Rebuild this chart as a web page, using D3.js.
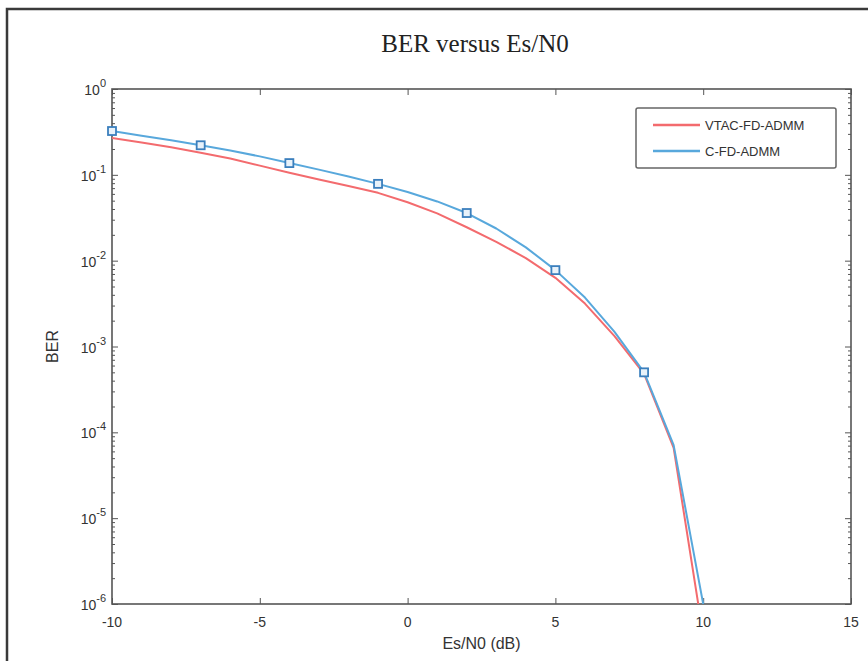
<!DOCTYPE html>
<html>
<head>
<meta charset="utf-8">
<script src="https://cdn.jsdelivr.net/npm/d3@7"></script>
<style>
  html, body { margin: 0; padding: 0; background: #fff; }
  svg { display: block; }
  text { font-family: "Liberation Sans", Arial, sans-serif; fill: #333; }
</style>
</head>
<body>
<svg id="chart" width="868" height="661"></svg>
<script>
// Es/N0 sweep (dB)
const snr = [-10, -9, -8, -7, -6, -5, -4, -3, -2, -1, 0, 1, 2, 3, 4, 5, 6, 7, 8, 9, 10];
// Bit error rate of each detector
const berVTAC = [0.269, 0.238, 0.209, 0.181, 0.155, 0.128, 0.106, 0.0881, 0.0741, 0.0617, 0.0479,
  0.0355, 0.0245, 0.0166, 0.0107, 0.00631, 0.00316, 0.00132, 4.8e-4, 6.6e-5, 4.3e-7];
const berCFD = [0.324, 0.286, 0.253, 0.221, 0.192, 0.164, 0.137, 0.115, 0.0955, 0.0785, 0.0631,
  0.0490, 0.0359, 0.0237, 0.0143, 0.00776, 0.00372, 0.00148, 5.0e-4, 7.1e-5, 1.0e-6];
// Marker positions of C-FD-ADMM (every 3 dB)
const markerSnr = [-10, -7, -4, -1, 2, 5, 8];
const seriesNames = ["VTAC-FD-ADMM", "C-FD-ADMM"];
const seriesColors = ["#f36b6e", "#58a8dc"];
const xTicks = [-10, -5, 0, 5, 10, 15];
const yExponents = [0, -1, -2, -3, -4, -5, -6];

const svg = d3.select("#chart");
const L = 112, R = 851, T = 89, B = 604;

// Outer figure frame
svg.append("path")
  .attr("d", `M7,670 L7,9 L875,9`)
  .attr("fill", "none").attr("stroke", "#3a3a3a").attr("stroke-width", 2.5);

const x = d3.scaleLinear().domain([-10, 15]).range([L, R]);
const y = d3.scaleLog().domain([1e-6, 1]).range([B, T]);

svg.append("defs").append("clipPath").attr("id", "plotClip")
  .append("rect").attr("x", L).attr("y", T).attr("width", R - L).attr("height", B - T);

// Title
svg.append("text").attr("x", 475).attr("y", 52).attr("text-anchor", "middle")
  .style("font-family", "'Liberation Serif', 'Times New Roman', serif")
  .style("font-size", "25px").style("fill", "#222")
  .text("BER versus Es/N0");

const axisColor = "#555";

// Minor and major y ticks (inward) on left and right
const minorVals = [];
for (let e = -6; e < 0; e++) for (let m = 2; m <= 9; m++) minorVals.push(m * Math.pow(10, e));
const yMajor = yExponents.map(e => Math.pow(10, e));

function yTicks(axisGen, xPos, len) {
  const g = svg.append("g").attr("transform", `translate(${xPos},0)`);
  g.call(axisGen(y).tickValues(minorVals).tickSize(len).tickFormat(""));
  g.select(".domain").remove();
  g.selectAll("line").attr("stroke", axisColor).attr("stroke-width", 1);
  const g2 = svg.append("g").attr("transform", `translate(${xPos},0)`);
  g2.call(axisGen(y).tickValues(yMajor).tickSize(len * 2).tickFormat(""));
  g2.select(".domain").remove();
  g2.selectAll("line").attr("stroke", axisColor).attr("stroke-width", 1);
}
yTicks(d3.axisLeft, L, -3);
yTicks(d3.axisRight, R, -3);

// x ticks (inward) on bottom and top
function xTickG(axisGen, yPos, len) {
  const g = svg.append("g").attr("transform", `translate(0,${yPos})`);
  g.call(axisGen(x).tickValues(xTicks).tickSize(len).tickFormat(""));
  g.select(".domain").remove();
  g.selectAll("line").attr("stroke", axisColor).attr("stroke-width", 1);
}
xTickG(d3.axisBottom, B, -6);
xTickG(d3.axisTop, T, -6);

// Box
svg.append("rect").attr("x", L).attr("y", T).attr("width", R - L).attr("height", B - T)
  .attr("fill", "none").attr("stroke", axisColor).attr("stroke-width", 1.6);

// Y tick labels 10^e
yExponents.forEach(e => {
  const t = svg.append("text").attr("x", 106).attr("y", y(Math.pow(10, e)) + 6)
    .attr("text-anchor", "end").style("font-size", "14px");
  t.append("tspan").text("10");
  t.append("tspan").attr("dy", -8).style("font-size", "11px").text(String(e));
});

// X tick labels
xTicks.forEach(v => {
  svg.append("text").attr("x", x(v)).attr("y", 627).attr("text-anchor", "middle")
    .style("font-size", "14px").text(v);
});

// Axis labels
svg.append("text").attr("x", (L + R) / 2).attr("y", 649).attr("text-anchor", "middle")
  .style("font-size", "16px").text("Es/N0 (dB)");
svg.append("text").attr("transform", `translate(58,${(T + B) / 2}) rotate(-90)`).attr("text-anchor", "middle")
  .style("font-size", "16px").text("BER");

// Curves
const line = d3.line().x(d => x(d[0])).y(d => y(d[1]));
const plot = svg.append("g").attr("clip-path", "url(#plotClip)");
[berVTAC, berCFD].forEach((ser, i) => {
  plot.append("path").datum(snr.map((s, k) => [s, ser[k]]))
    .attr("d", line).attr("fill", "none")
    .attr("stroke", seriesColors[i]).attr("stroke-width", 2)
    .attr("stroke-linejoin", "round");
});

// Square markers on C-FD-ADMM
svg.append("g").selectAll("rect").data(markerSnr).join("rect")
  .attr("x", d => x(d) - 4).attr("y", d => y(berCFD[snr.indexOf(d)]) - 4)
  .attr("width", 8).attr("height", 8)
  .attr("fill", "#e8f2fa").attr("stroke", "#3b7fbd").attr("stroke-width", 1.8);

// Legend
const lg = svg.append("g");
lg.append("rect").attr("x", 636).attr("y", 108).attr("width", 200).attr("height", 60)
  .attr("rx", 2).attr("fill", "#fff").attr("stroke", "#666").attr("stroke-width", 1.5);
seriesNames.forEach((n, i) => {
  const yy = 125 + i * 26;
  lg.append("line").attr("x1", 653).attr("x2", 700).attr("y1", yy).attr("y2", yy)
    .attr("stroke", seriesColors[i]).attr("stroke-width", 2.5);
  lg.append("text").attr("x", 705).attr("y", yy + 4.5).style("font-size", "13px").text(n);
});
</script>
</body>
</html>
